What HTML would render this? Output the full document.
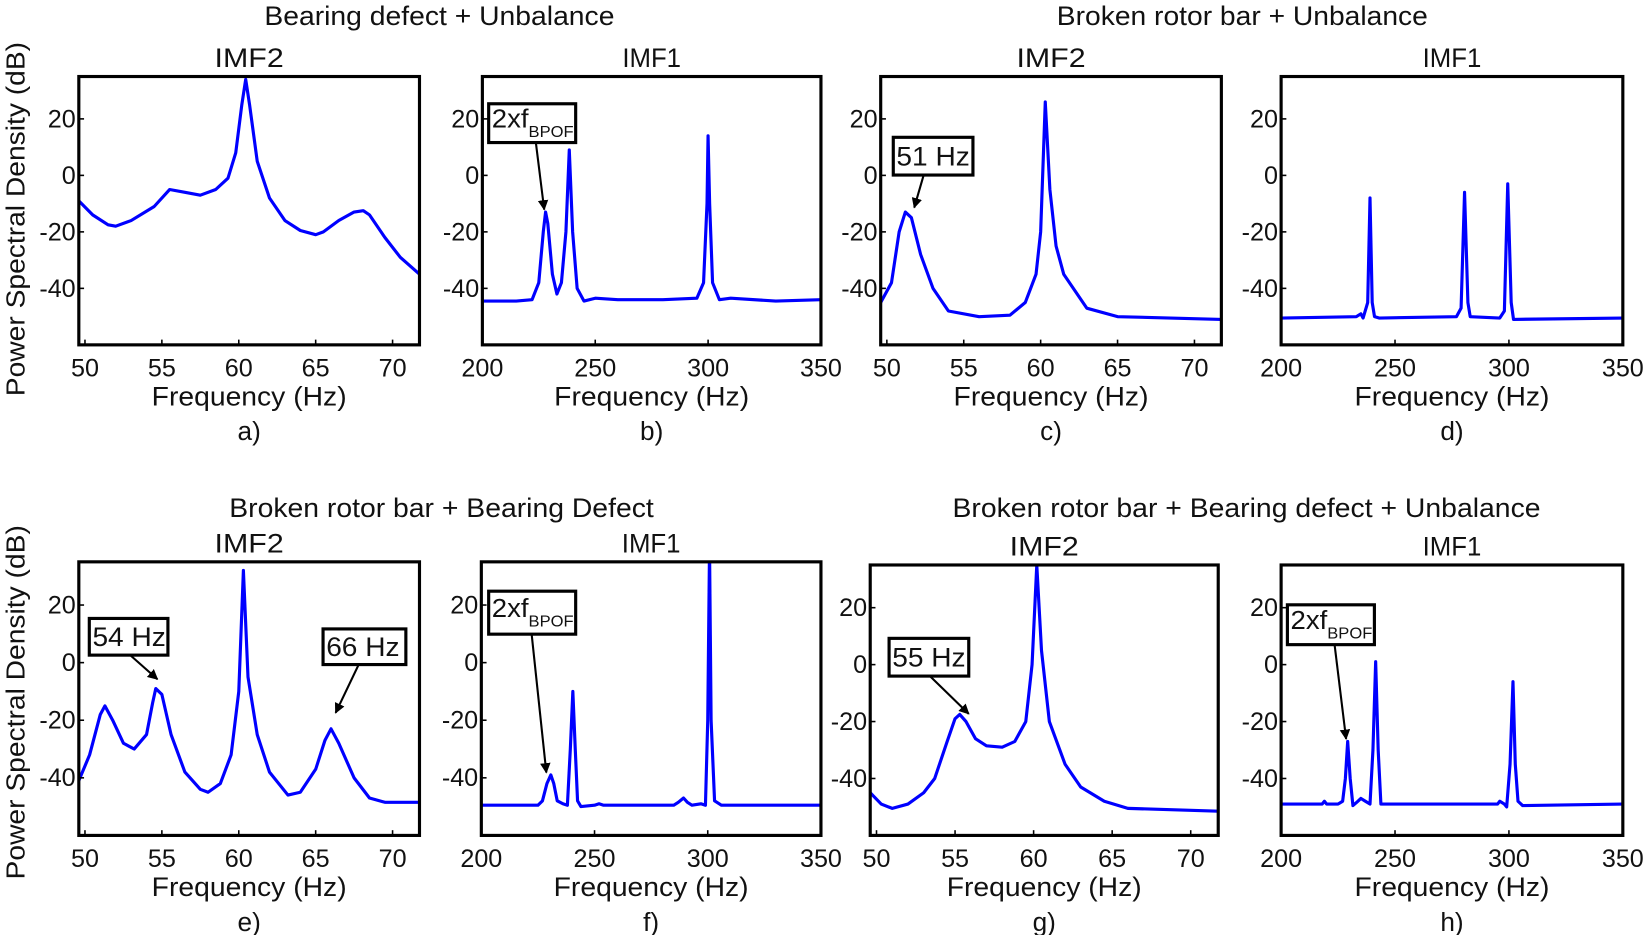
<!DOCTYPE html>
<html><head><meta charset="utf-8"><style>
html,body{margin:0;padding:0;background:#fff}
svg{display:block}
text{font-family:"Liberation Sans",sans-serif;fill:#111}
</style></head><body>
<svg id="fig" width="1644" height="935" viewBox="0 0 1568 892" xmlns="http://www.w3.org/2000/svg">
<defs><marker id="ah" viewBox="0 0 10 10" refX="9" refY="5" markerWidth="5" markerHeight="5" orient="auto"><path d="M0,0L10,5L0,10z" fill="#000"/></marker></defs>
<text x="419" y="24" text-anchor="middle" font-size="26" textLength="334" lengthAdjust="spacingAndGlyphs">Bearing defect + Unbalance</text>
<text x="1185" y="24" text-anchor="middle" font-size="26" textLength="354" lengthAdjust="spacingAndGlyphs">Broken rotor bar + Unbalance</text>
<text x="421" y="493" text-anchor="middle" font-size="26" textLength="405" lengthAdjust="spacingAndGlyphs">Broken rotor bar + Bearing Defect</text>
<text x="1189" y="493" text-anchor="middle" font-size="26" textLength="561" lengthAdjust="spacingAndGlyphs">Broken rotor bar + Bearing defect + Unbalance</text>
<text transform="translate(23,209) rotate(-90)" text-anchor="middle" font-size="25" textLength="338" lengthAdjust="spacingAndGlyphs">Power Spectral Density (dB)</text>
<text transform="translate(23,670) rotate(-90)" text-anchor="middle" font-size="25" textLength="338" lengthAdjust="spacingAndGlyphs">Power Spectral Density (dB)</text>
</svg>
<script>
// ---- data ----
const yTicks = [20, 0, -20, -40];
const lowXTicks = [50, 55, 60, 65, 70];
const highXTicks = [200, 250, 300, 350];
const aFreq = [49.6,50.5,51.5,52,53,54.5,55.5,56.5,57.5,58.5,59.3,59.8,60.2,60.45,60.7,61.2,62,63,64,65,65.5,66.5,67.5,68.1,68.5,69.5,70.5,71.75];
const aDb   = [-9,-14,-17.5,-18,-16,-11,-5,-6,-7,-5,-1,8,25,34,25,5,-8,-16,-19.5,-21,-20,-16,-13,-12.5,-14,-22,-29,-35];
const bFreq = [200,215,222,225,227,228,229,231,233,235,237,238.5,240,242,245,250,260,280,295,298,299.5,300,300.7,302,305,310,330,350];
const bDb   = [-44.5,-44.5,-44,-38,-20,-13,-17,-35,-42,-38,-20,9,-20,-40,-44.5,-43.5,-44,-44,-43.5,-38,-10,14,-10,-38,-44,-43.5,-44.5,-44];
const cFreq = [49.6,50.3,50.8,51.2,51.6,52.2,53,54,56,58,59,59.7,60,60.3,60.6,61,61.5,63,65,71.75];
const cDb   = [-45,-38,-20,-13,-15,-28,-40,-48,-50,-49.5,-45,-35,-20,26,-5,-25,-35,-47,-50,-51];
const dFreq = [200,233,235,236,238,239,240,241,243,277,279,280.5,282,283,296,298,299.5,301,302,350];
const dDb   = [-50.5,-50,-49,-50.5,-45,-8,-45,-50,-50.5,-50,-47,-6,-45,-50,-50.5,-48,-3,-45,-51,-50.5];
const eFreq = [49.6,50.3,51,51.3,51.8,52.5,53.2,54,54.4,54.6,55,55.6,56.5,57.5,58,58.8,59.5,60,60.3,60.6,61.2,62,63.2,64,65,65.6,66,66.5,67.5,68.5,69.5,71.75];
const eDb   = [-41,-32,-18,-15,-20,-28,-30,-25,-14,-9,-11,-25,-38,-44,-45,-42,-32,-10,32,-5,-25,-38,-46,-45,-37,-27,-23,-28,-40,-47,-48.5,-48.5];
const fFreq = [200,225,227,229,230.7,232,233.5,236,238,239.3,240.4,241.5,242.5,244,250,252,254,285,287,289.3,291,293,297,299,300,300.8,301.5,303,306,350];
const fDb   = [-49.5,-49.5,-48,-42,-39,-42,-48,-49,-49.5,-30,-10,-30,-48,-50,-49.5,-49,-49.5,-49.5,-48.5,-47,-48.5,-49.5,-49,-49.5,-20,40,-20,-48,-49.5,-49.5];
const gFreq = [49.6,50.3,51,52,53,53.7,54.5,55,55.3,55.7,56.3,57,58,58.8,59.5,59.9,60.2,60.5,61,62,63,64.5,66,71.75];
const gDb   = [-45,-49,-50.5,-49,-45,-40,-27,-19,-17.5,-20,-26,-28.5,-29,-27,-20,0,35,5,-20,-35,-43,-48,-50.5,-51.5];
const hFreq = [200,218,219,220,225,227,228.2,229.2,230.3,231.5,233,235,237,239,240.3,241.5,242.6,243.8,250,295,296,298,299,300.5,301.8,302.8,304,306,350];
const hDb   = [-49,-49,-48,-49,-49,-48,-40,-27,-40,-49.5,-48.5,-47,-48,-49,-30,1,-30,-49,-49,-49,-48,-49,-50,-35,-6,-35,-48,-49.5,-49];

const yMin = -60, yMax = 35;
const panels = [
 {id:'a',x0:75,x1:400,y0:73,y1:329,xmin:49.6,xmax:71.75,ticks:lowXTicks,fx:aFreq,fy:aDb,title:'IMF2'},
 {id:'b',x0:460,x1:783,y0:73,y1:329,xmin:200,xmax:350,ticks:highXTicks,fx:bFreq,fy:bDb,title:'IMF1'},
 {id:'c',x0:840,x1:1165,y0:73,y1:329,xmin:49.6,xmax:71.75,ticks:lowXTicks,fx:cFreq,fy:cDb,title:'IMF2'},
 {id:'d',x0:1222,x1:1548,y0:73,y1:329,xmin:200,xmax:350,ticks:highXTicks,fx:dFreq,fy:dDb,title:'IMF1'},
 {id:'e',x0:75,x1:400,y0:536,y1:797,xmin:49.6,xmax:71.75,ticks:lowXTicks,fx:eFreq,fy:eDb,title:'IMF2'},
 {id:'f',x0:459,x1:783,y0:536,y1:797,xmin:200,xmax:350,ticks:highXTicks,fx:fFreq,fy:fDb,title:'IMF1'},
 {id:'g',x0:830,x1:1162,y0:539,y1:797,xmin:49.6,xmax:71.75,ticks:lowXTicks,fx:gFreq,fy:gDb,title:'IMF2'},
 {id:'h',x0:1222,x1:1548,y0:539,y1:797,xmin:200,xmax:350,ticks:highXTicks,fx:hFreq,fy:hDb,title:'IMF1'}
];
const NS='http://www.w3.org/2000/svg';
const svg=document.getElementById('fig');
function mk(tag,attrs,parent){const e=document.createElementNS(NS,tag);for(const k in attrs)e.setAttribute(k,attrs[k]);(parent||svg).appendChild(e);return e;}

panels.forEach(p=>{
  const sx=v=>p.x0+(v-p.xmin)/(p.xmax-p.xmin)*(p.x1-p.x0);
  const sy=v=>p.y1-(v-yMin)/(yMax-yMin)*(p.y1-p.y0);
  const g=mk('g',{});
  
  
  const cid='clip'+p.id;
  const cp=mk('clipPath',{id:cid},g);
  mk('rect',{x:p.x0,y:p.y0,width:p.x1-p.x0,height:p.y1-p.y0},cp);
  const t=mk('text',{x:(p.x0+p.x1)/2,y:p.y0-9,'text-anchor':'middle','font-size':26,textLength:p.title==='IMF2'?66:56,lengthAdjust:'spacingAndGlyphs'},g);
  t.textContent=p.title;
  
  
  let d='';
  p.fx.forEach((f,i)=>{d+=(i?'L':'M')+sx(f).toFixed(1)+','+sy(p.fy[i]).toFixed(1);});
  const ln=mk('path',{d:d,fill:'none',stroke:'#0000ff','stroke-width':3,'stroke-linejoin':'round','clip-path':'url(#'+cid+')'},g);
  
  
  yTicks.forEach(v=>{
    const y=sy(v);
    mk('line',{x1:p.x0,x2:p.x0+5,y1:y,y2:y,stroke:'#000','stroke-width':1.5},g);
    const tl=mk('text',{x:p.x0-3,y:y+8,'text-anchor':'end','font-size':24},g);
    tl.textContent=v;
    
    
  });
  p.ticks.forEach(v=>{
    const x=sx(v);
    mk('line',{x1:x,x2:x,y1:p.y1,y2:p.y1-5,stroke:'#000','stroke-width':1.5},g);
    const tl=mk('text',{x:x,y:p.y1+30,'text-anchor':'middle','font-size':24},g);
    tl.textContent=v;
    
    
  });
  const bx=mk('rect',{x:p.x0,y:p.y0,width:p.x1-p.x0,height:p.y1-p.y0,fill:'none',stroke:'#000','stroke-width':3},g);
  
  
  const xl=mk('text',{x:(p.x0+p.x1)/2,y:p.y1+58,'text-anchor':'middle','font-size':26,textLength:186,lengthAdjust:'spacingAndGlyphs'},g);
  xl.textContent='Frequency (Hz)';
  
  
  const pl=mk('text',{x:(p.x0+p.x1)/2,y:p.y1+91,'text-anchor':'middle','font-size':25},g);
  pl.textContent=p.id+')';
  
  
});

const notes=[
 {bx:466,by:99,bw:83,bh:37,txt:'2xf',sub:'BPOF',ax1:511,ay1:136,ax2:519,ay2:200},
 {bx:852,by:131,bw:76,bh:36,txt:'51 Hz',ax1:881,ay1:167,ax2:872,ay2:198},
 {bx:85,by:590,bw:75,bh:35,txt:'54 Hz',ax1:124,ay1:625,ax2:150,ay2:648},
 {bx:308,by:600,bw:79,bh:34,txt:'66 Hz',ax1:342,ay1:634,ax2:320,ay2:680},
 {bx:466,by:564,bw:83,bh:41,txt:'2xf',sub:'BPOF',ax1:507,ay1:605,ax2:521,ay2:737},
 {bx:848,by:609,bw:76,bh:36,txt:'55 Hz',ax1:887,ay1:645,ax2:924,ay2:681},
 {bx:1228,by:577,bw:83,bh:38,txt:'2xf',sub:'BPOF',ax1:1273,ay1:615,ax2:1284,ay2:705}
];
notes.forEach(n=>{
  const g=mk('g',{});
  
  
  mk('line',{x1:n.ax1,y1:n.ay1,x2:n.ax2,y2:n.ay2,stroke:'#000','stroke-width':2,'marker-end':'url(#ah)'},g);
  mk('rect',{x:n.bx,y:n.by,width:n.bw,height:n.bh,fill:'#fff',stroke:'#000','stroke-width':3},g);
  const t=mk('text',{x:n.bx+3,y:n.by+n.bh/2+(n.sub?4:9),'font-size':n.sub?25:26,textLength:n.sub?78:70,lengthAdjust:'spacingAndGlyphs'},g);
  t.textContent=n.txt;
  if(n.sub){const s=mk('tspan',{dy:9,'font-size':15},t);s.textContent=n.sub;}
  
  
});
</script>
</body></html>
